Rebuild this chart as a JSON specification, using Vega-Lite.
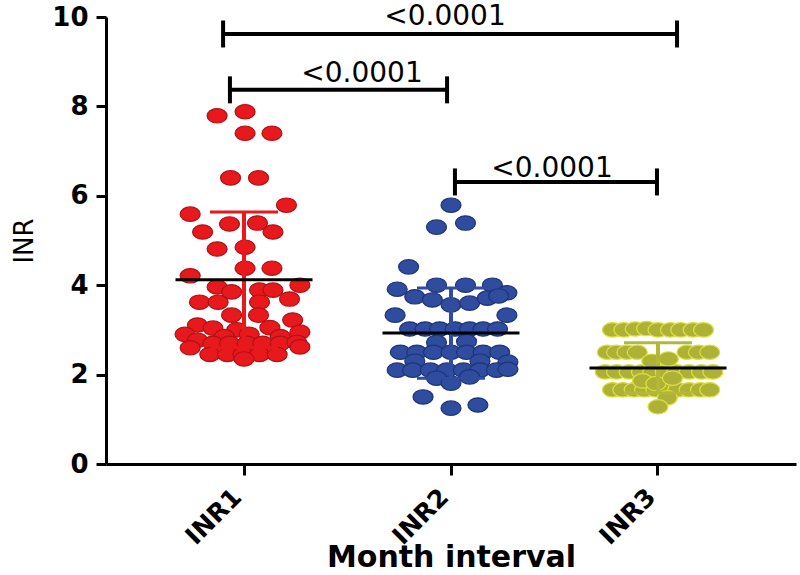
{
"$schema":"https://vega.github.io/schema/vega-lite/v6.json",
"width":690,"height":447,
"autosize":{"type":"none"},
"padding":{"left":106,"top":17,"right":4,"bottom":111},
"background":"white",
"config":{
 "view":{"stroke":null},
 "font":"DejaVu Sans",
 "axis":{"grid":false,"domainColor":"black","domainWidth":3,"tickColor":"black","tickWidth":3,"labelColor":"black","titleColor":"black","labelFont":"DejaVu Sans","titleFont":"DejaVu Sans"},
 "axisY":{"tickSize":10,"labelPadding":8,"labelFontSize":26,"labelFontWeight":"bold","titleFontSize":26,"titleFontWeight":"normal","titlePadding":14},
 "axisX":{"tickSize":11,"labelPadding":9,"labelOffset":-15,"labelFontSize":25,"labelFontWeight":"bold","labelAngle":-45,"titleFontSize":30,"titleFontWeight":"bold","titleY":102,"titleBaseline":"alphabetic"}
},
"datasets":{
 "points":[
  {"group":"INR1","jitter":-0.26,"inr":7.79},{"group":"INR1","jitter":0.01,"inr":7.88},{"group":"INR1","jitter":0.01,"inr":7.40},{"group":"INR1","jitter":0.27,"inr":7.40},
  {"group":"INR1","jitter":-0.13,"inr":6.40},{"group":"INR1","jitter":0.14,"inr":6.40},{"group":"INR1","jitter":-0.52,"inr":5.59},{"group":"INR1","jitter":0.41,"inr":5.79},
  {"group":"INR1","jitter":-0.14,"inr":5.37},{"group":"INR1","jitter":0.13,"inr":5.39},{"group":"INR1","jitter":-0.40,"inr":5.19},{"group":"INR1","jitter":0.28,"inr":5.19},
  {"group":"INR1","jitter":-0.26,"inr":4.81},{"group":"INR1","jitter":0.01,"inr":4.85},{"group":"INR1","jitter":0.01,"inr":4.38},{"group":"INR1","jitter":0.27,"inr":4.38},
  {"group":"INR1","jitter":-0.52,"inr":4.21},{"group":"INR1","jitter":-0.26,"inr":3.96},{"group":"INR1","jitter":-0.12,"inr":3.85},{"group":"INR1","jitter":0.15,"inr":3.89},
  {"group":"INR1","jitter":0.28,"inr":3.89},{"group":"INR1","jitter":0.54,"inr":4.00},{"group":"INR1","jitter":-0.43,"inr":3.62},{"group":"INR1","jitter":-0.25,"inr":3.62},
  {"group":"INR1","jitter":0.15,"inr":3.62},{"group":"INR1","jitter":0.44,"inr":3.69},{"group":"INR1","jitter":-0.12,"inr":3.33},{"group":"INR1","jitter":0.14,"inr":3.33},
  {"group":"INR1","jitter":-0.45,"inr":3.11},{"group":"INR1","jitter":-0.30,"inr":3.04},{"group":"INR1","jitter":-0.07,"inr":3.00},{"group":"INR1","jitter":0.25,"inr":3.05},
  {"group":"INR1","jitter":0.47,"inr":3.22},{"group":"INR1","jitter":0.54,"inr":2.95},{"group":"INR1","jitter":-0.57,"inr":2.90},{"group":"INR1","jitter":0.05,"inr":2.90},
  {"group":"INR1","jitter":-0.19,"inr":2.85},{"group":"INR1","jitter":0.35,"inr":2.85},{"group":"INR1","jitter":-0.45,"inr":2.77},{"group":"INR1","jitter":-0.30,"inr":2.70},
  {"group":"INR1","jitter":-0.14,"inr":2.70},{"group":"INR1","jitter":0.03,"inr":2.70},{"group":"INR1","jitter":0.18,"inr":2.70},{"group":"INR1","jitter":0.35,"inr":2.70},
  {"group":"INR1","jitter":0.51,"inr":2.72},{"group":"INR1","jitter":-0.52,"inr":2.60},{"group":"INR1","jitter":0.54,"inr":2.62},{"group":"INR1","jitter":-0.33,"inr":2.45},
  {"group":"INR1","jitter":-0.16,"inr":2.45},{"group":"INR1","jitter":-0.01,"inr":2.45},{"group":"INR1","jitter":0.15,"inr":2.45},{"group":"INR1","jitter":0.32,"inr":2.45},
  {"group":"INR1","jitter":0.00,"inr":2.35},
  {"group":"INR2","jitter":0.00,"inr":5.79},{"group":"INR2","jitter":-0.14,"inr":5.30},{"group":"INR2","jitter":0.14,"inr":5.39},{"group":"INR2","jitter":-0.41,"inr":4.41},
  {"group":"INR2","jitter":-0.52,"inr":3.91},{"group":"INR2","jitter":-0.14,"inr":4.00},{"group":"INR2","jitter":0.14,"inr":4.00},{"group":"INR2","jitter":0.40,"inr":4.00},
  {"group":"INR2","jitter":0.54,"inr":3.83},{"group":"INR2","jitter":-0.35,"inr":3.74},{"group":"INR2","jitter":-0.18,"inr":3.67},{"group":"INR2","jitter":0.00,"inr":3.56},
  {"group":"INR2","jitter":0.18,"inr":3.60},{"group":"INR2","jitter":0.35,"inr":3.71},{"group":"INR2","jitter":0.46,"inr":3.76},{"group":"INR2","jitter":-0.54,"inr":3.33},
  {"group":"INR2","jitter":0.54,"inr":3.33},
  {"group":"INR2","jitter":-0.40,"inr":3.02},{"group":"INR2","jitter":-0.25,"inr":3.02},{"group":"INR2","jitter":-0.11,"inr":3.02},{"group":"INR2","jitter":0.04,"inr":3.02},
  {"group":"INR2","jitter":0.18,"inr":3.02},{"group":"INR2","jitter":0.31,"inr":3.02},{"group":"INR2","jitter":0.45,"inr":3.02},
  {"group":"INR2","jitter":-0.14,"inr":2.72},{"group":"INR2","jitter":0.15,"inr":2.74},
  {"group":"INR2","jitter":-0.49,"inr":2.50},{"group":"INR2","jitter":-0.33,"inr":2.50},{"group":"INR2","jitter":-0.17,"inr":2.50},{"group":"INR2","jitter":0.00,"inr":2.50},
  {"group":"INR2","jitter":0.15,"inr":2.50},{"group":"INR2","jitter":0.31,"inr":2.50},{"group":"INR2","jitter":0.47,"inr":2.50},
  {"group":"INR2","jitter":0.55,"inr":2.28},{"group":"INR2","jitter":-0.35,"inr":2.30},{"group":"INR2","jitter":0.28,"inr":2.30},
  {"group":"INR2","jitter":-0.52,"inr":2.10},{"group":"INR2","jitter":-0.37,"inr":2.10},{"group":"INR2","jitter":-0.20,"inr":2.10},{"group":"INR2","jitter":-0.04,"inr":2.10},
  {"group":"INR2","jitter":0.12,"inr":2.10},{"group":"INR2","jitter":0.28,"inr":2.10},{"group":"INR2","jitter":0.44,"inr":2.10},{"group":"INR2","jitter":0.55,"inr":2.12},
  {"group":"INR2","jitter":-0.14,"inr":1.92},{"group":"INR2","jitter":0.18,"inr":1.95},{"group":"INR2","jitter":0.00,"inr":1.81},{"group":"INR2","jitter":-0.27,"inr":1.50},
  {"group":"INR2","jitter":0.00,"inr":1.25},{"group":"INR2","jitter":0.26,"inr":1.32},
  {"group":"INR3","jitter":-0.44,"inr":3.00},{"group":"INR3","jitter":-0.33,"inr":3.00},{"group":"INR3","jitter":-0.22,"inr":3.02},{"group":"INR3","jitter":-0.11,"inr":3.03},
  {"group":"INR3","jitter":0.00,"inr":3.00},{"group":"INR3","jitter":0.12,"inr":3.00},{"group":"INR3","jitter":0.22,"inr":3.00},{"group":"INR3","jitter":0.34,"inr":3.00},
  {"group":"INR3","jitter":0.44,"inr":3.00},
  {"group":"INR3","jitter":-0.49,"inr":2.50},{"group":"INR3","jitter":-0.40,"inr":2.50},{"group":"INR3","jitter":-0.30,"inr":2.50},{"group":"INR3","jitter":-0.20,"inr":2.50},
  {"group":"INR3","jitter":0.28,"inr":2.50},{"group":"INR3","jitter":0.39,"inr":2.50},{"group":"INR3","jitter":0.50,"inr":2.50},
  {"group":"INR3","jitter":-0.51,"inr":2.06},{"group":"INR3","jitter":-0.40,"inr":2.06},{"group":"INR3","jitter":-0.28,"inr":2.06},{"group":"INR3","jitter":-0.16,"inr":2.06},
  {"group":"INR3","jitter":-0.05,"inr":2.06},{"group":"INR3","jitter":0.07,"inr":2.06},{"group":"INR3","jitter":0.18,"inr":2.06},{"group":"INR3","jitter":0.30,"inr":2.06},
  {"group":"INR3","jitter":0.42,"inr":2.06},{"group":"INR3","jitter":0.53,"inr":2.06},
  {"group":"INR3","jitter":-0.44,"inr":1.66},{"group":"INR3","jitter":-0.34,"inr":1.66},{"group":"INR3","jitter":-0.23,"inr":1.66},{"group":"INR3","jitter":-0.13,"inr":1.66},
  {"group":"INR3","jitter":-0.02,"inr":1.66},{"group":"INR3","jitter":0.09,"inr":1.66},{"group":"INR3","jitter":0.19,"inr":1.66},{"group":"INR3","jitter":0.30,"inr":1.66},
  {"group":"INR3","jitter":0.41,"inr":1.66},{"group":"INR3","jitter":0.50,"inr":1.66},
  {"group":"INR3","jitter":-0.06,"inr":2.30},{"group":"INR3","jitter":0.10,"inr":2.35},{"group":"INR3","jitter":-0.15,"inr":1.86},{"group":"INR3","jitter":-0.02,"inr":1.80},
  {"group":"INR3","jitter":0.14,"inr":1.92},{"group":"INR3","jitter":0.09,"inr":1.48},{"group":"INR3","jitter":0.00,"inr":1.28}
 ],
 "summary":[
  {"group":"INR1","mean":4.12,"lo":2.60,"hi":5.64},
  {"group":"INR2","mean":2.93,"lo":1.92,"hi":3.94},
  {"group":"INR3","mean":2.15,"lo":1.59,"hi":2.71}
 ],
 "brackets":[
  {"from":0.899,"to":3.092,"y":9.62,"tx":1.971,"ty":9.82,"label":"<0.0001"},
  {"from":0.932,"to":1.981,"y":8.37,"tx":1.570,"ty":8.55,"label":"<0.0001"},
  {"from":2.019,"to":2.995,"y":6.31,"tx":2.488,"ty":6.42,"label":"<0.0001"}
 ]
},
"layer":[
 {
  "layer":[
   {
    "data":{"name":"points"},
    "mark":{"type":"point","shape":"M-1,0A1,0.72,0,1,0,1,0A1,0.72,0,1,0,-1,0Z","filled":true,"size":400,"strokeWidth":1.2,"opacity":1},
    "encoding":{
     "x":{"field":"group","type":"nominal","title":"Month interval","scale":{"type":"band","paddingInner":0,"paddingOuter":0.1667}},
     "xOffset":{"field":"jitter","type":"quantitative","scale":{"domain":[-1,1]}},
     "y":{"field":"inr","type":"quantitative","title":"INR","scale":{"domain":[0,10],"nice":false},"axis":{"values":[0,2,4,6,8,10]}},
     "fill":{"field":"group","type":"nominal","legend":null,"scale":{"domain":["INR1","INR2","INR3"],"range":["#e8191d","#2f4c9e","#adb236"]}},
     "stroke":{"field":"group","type":"nominal","legend":null,"scale":{"domain":["INR1","INR2","INR3"],"range":["#b01216","#1f3478","#dde03c"]}}
    }
   },
   {
    "data":{"name":"summary"},
    "mark":{"type":"rule","strokeWidth":4},
    "encoding":{
     "x":{"field":"group","type":"nominal","title":"Month interval"},
     "y":{"field":"lo","type":"quantitative","title":"INR"},
     "y2":{"field":"hi"},
     "color":{"field":"group","type":"nominal","legend":null,"scale":{"domain":["INR1","INR2","INR3"],"range":["#e8191d","#2f4c9e","#b3b836"]}}
    }
   },
   {
    "data":{"name":"summary"},
    "mark":{"type":"tick","size":68,"thickness":3,"opacity":1},
    "encoding":{
     "x":{"field":"group","type":"nominal","title":"Month interval"},
     "y":{"field":"hi","type":"quantitative","title":"INR"},
     "color":{"field":"group","type":"nominal","legend":null}
    }
   },
   {
    "data":{"name":"summary"},
    "mark":{"type":"tick","size":68,"thickness":3,"opacity":1},
    "encoding":{
     "x":{"field":"group","type":"nominal","title":"Month interval"},
     "y":{"field":"lo","type":"quantitative","title":"INR"},
     "color":{"field":"group","type":"nominal","legend":null}
    }
   },
   {
    "data":{"name":"summary"},
    "mark":{"type":"tick","size":137,"thickness":3,"color":"black","opacity":1},
    "encoding":{
     "x":{"field":"group","type":"nominal","title":"Month interval"},
     "y":{"field":"mean","type":"quantitative","title":"INR"}
    }
   }
  ]
 },
 {
  "data":{"name":"brackets"},
  "layer":[
   {
    "mark":{"type":"rule","strokeWidth":4,"color":"black"},
    "encoding":{
     "x":{"field":"from","type":"quantitative","scale":{"domain":[0.3333,3.6667],"nice":false,"zero":false},"axis":null},
     "x2":{"field":"to"},
     "y":{"field":"y","type":"quantitative","title":"INR"}
    }
   },
   {
    "mark":{"type":"tick","orient":"vertical","size":27,"thickness":4,"color":"black","opacity":1},
    "encoding":{
     "x":{"field":"from","type":"quantitative","axis":null},
     "y":{"field":"y","type":"quantitative","title":"INR"}
    }
   },
   {
    "mark":{"type":"tick","orient":"vertical","size":27,"thickness":4,"color":"black","opacity":1},
    "encoding":{
     "x":{"field":"to","type":"quantitative","axis":null},
     "y":{"field":"y","type":"quantitative","title":"INR"}
    }
   },
   {
    "mark":{"type":"text","font":"DejaVu Sans","fontSize":28,"align":"center","baseline":"alphabetic","color":"black"},
    "encoding":{
     "x":{"field":"tx","type":"quantitative","axis":null},
     "y":{"field":"ty","type":"quantitative","title":"INR"},
     "text":{"field":"label"}
    }
   }
  ]
 }
],
"resolve":{"scale":{"x":"independent"}}
}
